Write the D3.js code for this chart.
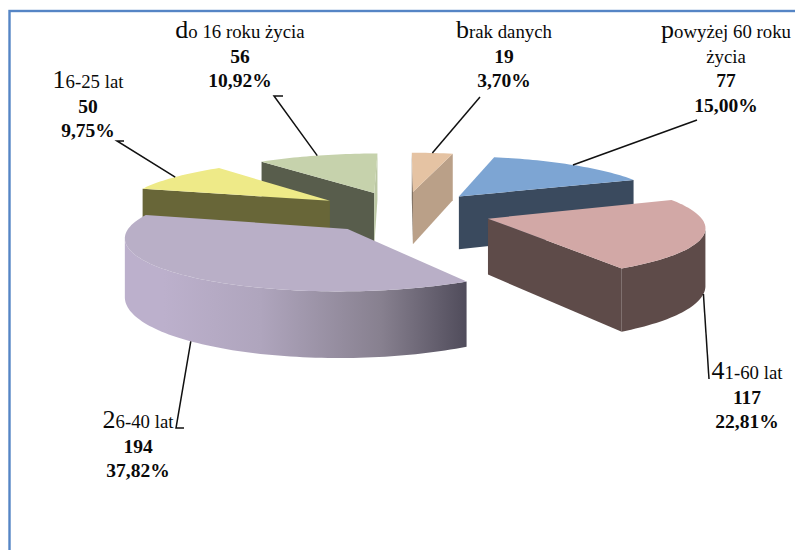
<!DOCTYPE html>
<html>
<head>
<meta charset="utf-8">
<script src="https://cdnjs.cloudflare.com/ajax/libs/d3/7.8.5/d3.min.js"></script>
<style>
  html, body { margin: 0; padding: 0; background: #fff; overflow: hidden; }
  text { font-family: "Liberation Serif", serif; fill: #0a0a0a; }
</style>
</head>
<body>
<script>
// chart values, clockwise from the top
var categories = ['brak danych', 'powyżej 60 roku życia', '41-60 lat', '26-40 lat', '16-25 lat', 'do 16 roku życia'];
var counts = [19, 77, 117, 194, 50, 56];
var percents = ['3,70%', '15,00%', '22,81%', '37,82%', '9,75%', '10,92%'];

// styling per slice, same order
var topColors = ['#e5c3a3', '#7da5d3', '#d2a8a6', '#b9afc7', '#eeea88', '#c6d2ac'];
var startWallColors = ['#6e5f50', '#3a4a5e', '#5e4b49', '#4f4b5a', '#686638', '#585d4c'];
var endWallColors = ['#baa088', '#3a4a5e', '#5e4b49', '#b9afc7', '#686638', '#bcc8a4'];
var explodes = [90, 90, 88, 87, 90, 90];
var paintOrder = [0, 5, 1, 4, 3, 2];
var labelLayout = [
  { x: 504, y: 38, wrap: 99, elbow: [[480, 97]] },
  { x: 726, y: 38, wrap: 15, elbow: [[697, 120]] },
  { x: 747, y: 379, wrap: 99, elbow: [[709, 379]] },
  { x: 138, y: 428, wrap: 99, elbow: [[176, 428], [184, 428]] },
  { x: 88, y: 88, wrap: 99, elbow: [[117, 141], [124, 141]] },
  { x: 240, y: 38, wrap: 99, elbow: [[274, 96], [283, 96]] }
];

var width = 795;
var height = 550;
var cx = 403;
var cy = 212;
var radius = 210;
var tilt = 0.235;
var camera = 1600;
var depth = 55;

var svg = d3.select('body').append('svg')
  .attr('width', width)
  .attr('height', height);

// outer frame, only the top and left edges fall inside the page
svg.append('rect')
  .attr('x', 9.5).attr('y', 11)
  .attr('width', width + 20).attr('height', height + 20)
  .attr('fill', 'none')
  .attr('stroke', '#5585c5')
  .attr('stroke-width', 2.4);

var defs = svg.append('defs');
var purple = defs.append('linearGradient')
  .attr('id', 'wall-purple')
  .attr('gradientUnits', 'userSpaceOnUse')
  .attr('x1', 122).attr('x2', 468).attr('y1', 0).attr('y2', 0);
purple.append('stop').attr('offset', '0.12').attr('stop-color', '#bcb0cc');
purple.append('stop').attr('offset', '0.4').attr('stop-color', '#afa5bd');
purple.append('stop').attr('offset', '0.75').attr('stop-color', '#87808f');
purple.append('stop').attr('offset', '1').attr('stop-color', '#4f4b5a');

// world point to screen: z grows towards the viewer, h is height above the top face
function project(x, z, h) {
  var s = 1 / (1 - z / camera);
  return [cx + x * s, cy + (z * tilt - h) * s];
}

function slicePoint(d, angle, r, h) {
  var mid = (d.startAngle + d.endAngle) / 2;
  var explode = explodes[d.index];
  var x = explode * Math.sin(mid) + r * Math.sin(angle);
  var z = -explode * Math.cos(mid) - r * Math.cos(angle);
  return project(x, z, h);
}

var pie = d3.pie().sort(null).value(function (d) { return d; })
  .startAngle(0).endAngle(2 * Math.PI);
var slices = pie(counts);
var line = d3.line();

function arcAngles(d) {
  var n = Math.max(8, Math.round((d.endAngle - d.startAngle) * 40));
  return d3.range(n + 1).map(function (i) {
    return d.startAngle + (d.endAngle - d.startAngle) * i / n;
  });
}

function drawSlice(i) {
  var d = slices[i];
  var g = svg.append('g').attr('class', 'slice');
  var angles = arcAngles(d);

  function radialWall(angle) {
    return [
      slicePoint(d, 0, 0, 0),
      slicePoint(d, angle, radius, 0),
      slicePoint(d, angle, radius, -depth),
      slicePoint(d, 0, 0, -depth)
    ];
  }

  var startWall = radialWall(d.startAngle);
  var endWall = radialWall(d.endAngle);
  // the winding of a projected face says if it looks at the viewer
  if (d3.polygonArea(startWall) > 0) {
    g.append('path').attr('d', line(startWall) + 'Z').attr('fill', startWallColors[i]);
  }
  if (d3.polygonArea(endWall) < 0) {
    g.append('path').attr('d', line(endWall) + 'Z').attr('fill', endWallColors[i]);
  }

  // same test for the curved wall, one short piece of rim at a time
  var rim = angles.filter(function (a, k) {
    var next = angles[Math.min(k + 1, angles.length - 1)];
    var prev = angles[Math.max(k - 1, 0)];
    return d3.polygonArea([
      slicePoint(d, prev, radius, 0),
      slicePoint(d, next, radius, 0),
      slicePoint(d, next, radius, -depth),
      slicePoint(d, prev, radius, -depth)
    ]) > 0;
  });
  if (rim.length > 1) {
    var outer = rim.map(function (a) { return slicePoint(d, a, radius, 0); })
      .concat(rim.slice().reverse().map(function (a) { return slicePoint(d, a, radius, -depth); }));
    g.append('path').attr('d', line(outer) + 'Z')
      .attr('fill', i === 3 ? 'url(#wall-purple)' : endWallColors[i]);
  }

  var top = [slicePoint(d, 0, 0, 0)].concat(angles.map(function (a) {
    return slicePoint(d, a, radius, 0);
  }));
  g.append('path').attr('d', line(top) + 'Z').attr('fill', topColors[i]);
}

paintOrder.forEach(drawSlice);

// leader lines run from the middle of the rim to the label
slices.forEach(function (d, i) {
  var mid = (d.startAngle + d.endAngle) / 2;
  var front = Math.cos(mid) < 0;
  var from = slicePoint(d, mid, radius, front ? -depth : 0);
  svg.append('path')
    .attr('d', line([from].concat(labelLayout[i].elbow).reverse()))
    .attr('fill', 'none')
    .attr('stroke', '#111')
    .attr('stroke-width', 1.5);
});

// first letter of each category is larger, as in the source chart
function addLabel(i) {
  var pos = labelLayout[i];
  var name = categories[i];
  var cut = name.length > pos.wrap ? name.lastIndexOf(' ') : name.length;
  var rows = [name.slice(0, cut)];
  if (cut < name.length) rows.push(name.slice(cut + 1));
  var y = pos.y;

  rows.forEach(function (row, r) {
    var t = svg.append('text').attr('x', pos.x).attr('y', y)
      .attr('text-anchor', 'middle').attr('font-size', 18.8);
    if (r === 0) {
      t.append('tspan').attr('font-size', 26).text(row.charAt(0));
      t.append('tspan').text(row.slice(1));
    } else {
      t.text(row);
    }
    y += 24.5;
  });

  [String(counts[i]), percents[i]].forEach(function (value) {
    svg.append('text').attr('x', pos.x).attr('y', y)
      .attr('text-anchor', 'middle')
      .attr('font-size', 19.5)
      .attr('font-weight', 'bold')
      .text(value);
    y += 24.5;
  });
}

d3.range(categories.length).forEach(addLabel);
</script>
</body>
</html>
